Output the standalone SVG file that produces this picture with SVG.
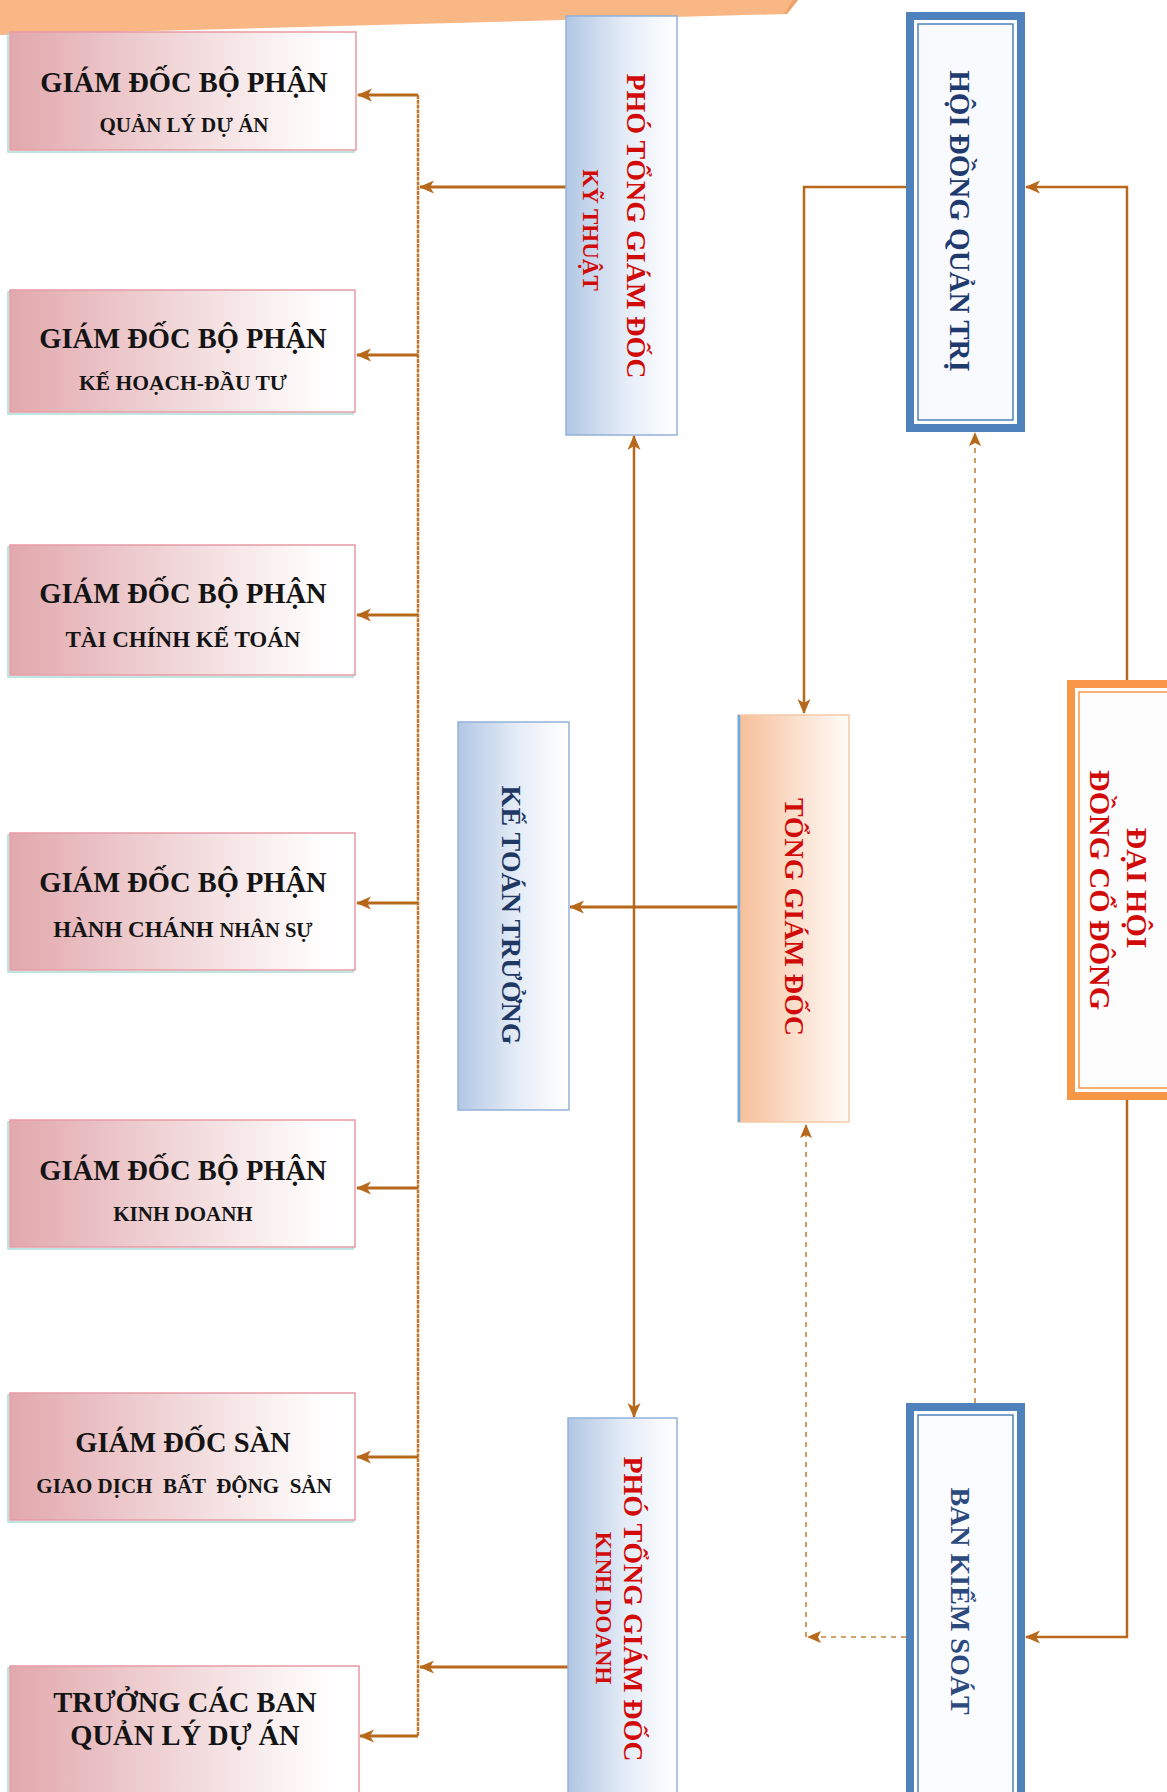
<svg xmlns="http://www.w3.org/2000/svg" width="1167" height="1792" viewBox="0 0 1167 1792">
<style>
.t{font-family:"Liberation Serif","Times New Roman",serif;font-weight:bold}
.blk{fill:#141414}
.red{fill:#d10a0a}
.navy{fill:#1f3864}
.pk{fill:url(#gPink);stroke:#e79aa5;stroke-width:1.5}
.sh{fill:none;stroke:#a9dcd7;stroke-width:1.5}
.bl{fill:url(#gBlue);stroke:#93b1da;stroke-width:1.5}
.con{fill:none;stroke:#b8681a;stroke-width:3}
.trk{fill:none;stroke:#c27628;stroke-width:2.5;stroke-dasharray:4 0.8}
.dsh{fill:none;stroke:#c4843a;stroke-width:1.6;stroke-dasharray:5 5}
</style>
<defs>
<linearGradient id="gPink" x1="0" y1="0" x2="1" y2="0">
<stop offset="0" stop-color="#e2a8ad"/><stop offset="0.5" stop-color="#f1d8da"/><stop offset="0.9" stop-color="#fffdfd"/><stop offset="1" stop-color="#ffffff"/>
</linearGradient>
<linearGradient id="gBlue" x1="0" y1="0" x2="1" y2="0">
<stop offset="0" stop-color="#b2c7e4"/><stop offset="0.55" stop-color="#e6edf7"/><stop offset="1" stop-color="#ffffff"/>
</linearGradient>
<linearGradient id="gPeach" x1="0" y1="0" x2="1" y2="0">
<stop offset="0" stop-color="#f7be98"/><stop offset="0.6" stop-color="#fbe4d4"/><stop offset="1" stop-color="#fffaf6"/>
</linearGradient>
<marker id="ah" markerUnits="userSpaceOnUse" markerWidth="17" markerHeight="15" refX="14" refY="7.5" orient="auto">
<path d="M0,1 L15,7.5 L0,14 L4,7.5 Z" fill="#b8681a"/>
</marker>
<marker id="ahs" markerUnits="userSpaceOnUse" markerWidth="17" markerHeight="15" refX="14" refY="7.5" orient="auto-start-reverse">
<path d="M0,1 L15,7.5 L0,14 L4,7.5 Z" fill="#b8681a"/>
</marker>
<marker id="ahd" markerUnits="userSpaceOnUse" markerWidth="16" markerHeight="14" refX="13" refY="7" orient="auto">
<path d="M0,1 L14,7 L0,13 L3,7 Z" fill="#b8681a"/>
</marker>
</defs>
<rect x="0" y="0" width="1167" height="1792" fill="#ffffff"/>

<g id="banner">
<polygon points="0,0 798,0 787,14 0,35" fill="#f8b784"/>
<polygon points="787,14 798,0 793,0 784,14" fill="#eea36c"/>
</g>

<g id="connectors">
<path class="trk" d="M418,95 V1736"/>
<path class="con" marker-end="url(#ah)" d="M418,95 H358"/>
<path class="con" marker-end="url(#ah)" d="M418,355 H357"/>
<path class="con" marker-end="url(#ah)" d="M418,615 H357"/>
<path class="con" marker-end="url(#ah)" d="M418,903 H357"/>
<path class="con" marker-end="url(#ah)" d="M418,1188 H357"/>
<path class="con" marker-end="url(#ah)" d="M418,1457 H357"/>
<path class="con" marker-end="url(#ah)" d="M418,1736 H360"/>
<path class="con" marker-end="url(#ah)" d="M566,187 H420"/>
<path class="con" marker-end="url(#ah)" d="M568,1667 H420"/>
<path class="con" marker-start="url(#ahs)" marker-end="url(#ahs)" d="M634,436 V1417" style="stroke-width:2.5"/>
<path class="con" marker-end="url(#ah)" d="M738,907 H570"/>
<path class="con" marker-end="url(#ah)" d="M906,187 H804 V713" style="stroke-width:2.5"/>
<path class="con" marker-end="url(#ah)" d="M1127,680 V187 H1026" style="stroke-width:2.5"/>
<path class="con" marker-end="url(#ah)" d="M1127,1100 V1637 H1026" style="stroke-width:2.5"/>
<path class="dsh" marker-end="url(#ahd)" d="M975,1403 V433"/>
<path class="dsh" marker-end="url(#ahd)" d="M906,1637 H808"/>
<path class="dsh" marker-end="url(#ahd)" d="M806,1637 V1125"/>
</g>

<g id="gd-qlda">
<rect class="sh" x="8" y="34" width="346" height="118"/>
<rect class="pk" x="10" y="32" width="346" height="118"/>
<text class="t blk" x="184" y="92" font-size="28.5" text-anchor="middle">GIÁM ĐỐC BỘ PHẬN</text>
<text class="t blk" x="184" y="132" font-size="21" text-anchor="middle">QUẢN LÝ DỰ ÁN</text>
</g>
<g id="gd-khdt">
<rect class="sh" x="8" y="292" width="345" height="122"/>
<rect class="pk" x="10" y="290" width="345" height="122"/>
<text class="t blk" x="183" y="348" font-size="28.5" text-anchor="middle">GIÁM ĐỐC BỘ PHẬN</text>
<text class="t blk" x="183" y="390" font-size="21.5" text-anchor="middle">KẾ HOẠCH-ĐẦU TƯ</text>
</g>
<g id="gd-tckt">
<rect class="sh" x="8" y="547" width="345" height="130"/>
<rect class="pk" x="10" y="545" width="345" height="130"/>
<text class="t blk" x="183" y="603" font-size="28.5" text-anchor="middle">GIÁM ĐỐC BỘ PHẬN</text>
<text class="t blk" x="183" y="647" font-size="23" text-anchor="middle">TÀI CHÍNH KẾ TOÁN</text>
</g>
<g id="gd-hcns">
<rect class="sh" x="8" y="835" width="345" height="137"/>
<rect class="pk" x="10" y="833" width="345" height="137"/>
<text class="t blk" x="183" y="892" font-size="28.5" text-anchor="middle">GIÁM ĐỐC BỘ PHẬN</text>
<text class="t blk" x="183" y="937" font-size="23" text-anchor="middle">HÀNH CHÁNH <tspan font-size="20.5">NHÂN SỰ</tspan></text>
</g>
<g id="gd-kd">
<rect class="sh" x="8" y="1122" width="345" height="127"/>
<rect class="pk" x="10" y="1120" width="345" height="127"/>
<text class="t blk" x="183" y="1180" font-size="28.5" text-anchor="middle">GIÁM ĐỐC BỘ PHẬN</text>
<text class="t blk" x="183" y="1221" font-size="21" text-anchor="middle">KINH DOANH</text>
</g>
<g id="gd-san">
<rect class="sh" x="8" y="1395" width="345" height="127"/>
<rect class="pk" x="10" y="1393" width="345" height="127"/>
<text class="t blk" x="183" y="1452" font-size="28.5" text-anchor="middle">GIÁM ĐỐC SÀN</text>
<text class="t blk" x="184" y="1493" font-size="21" text-anchor="middle" style="white-space:pre">GIAO DỊCH  BẤT  ĐỘNG  SẢN</text>
</g>
<g id="truong-ban">
<rect class="sh" x="8" y="1668" width="349" height="130"/>
<rect class="pk" x="10" y="1666" width="349" height="130"/>
<text class="t blk" x="185" y="1712" font-size="28.5" text-anchor="middle">TRƯỞNG CÁC BAN</text>
<text class="t blk" x="185" y="1745" font-size="28.5" text-anchor="middle">QUẢN LÝ DỰ ÁN</text>
</g>

<g id="ptgd-kt">
<rect class="bl" x="566" y="16" width="111" height="419"/>
<text class="t red" transform="translate(627,226) rotate(90)" font-size="28" text-anchor="middle">PHÓ TỔNG GIÁM ĐỐC</text>
<text class="t red" transform="translate(583,230) rotate(90)" font-size="23" text-anchor="middle">KỸ THUẬT</text>
</g>
<g id="ke-toan-truong">
<rect class="bl" x="458" y="722" width="111" height="388"/>
<text class="t navy" transform="translate(502,915) rotate(90)" font-size="28" text-anchor="middle">KẾ TOÁN TRƯỞNG</text>
</g>
<g id="tong-giam-doc">
<rect x="738" y="715" width="111" height="407" fill="url(#gPeach)" stroke="#f6c9a6" stroke-width="1.5"/>
<path d="M739,715 V1122" stroke="#68aee6" stroke-width="2.5"/>
<text class="t red" transform="translate(785,917) rotate(90)" font-size="28" text-anchor="middle">TỔNG GIÁM ĐỐC</text>
</g>
<g id="ptgd-kd">
<rect class="bl" x="568" y="1418" width="109" height="380"/>
<text class="t red" transform="translate(624,1609) rotate(90)" font-size="28" text-anchor="middle">PHÓ TỔNG GIÁM ĐỐC</text>
<text class="t red" transform="translate(596,1608) rotate(90)" font-size="23" text-anchor="middle">KINH DOANH</text>
</g>
<g id="hoi-dong-quan-tri">
<rect x="910" y="16" width="111" height="412" fill="#ffffff" stroke="#4f81bd" stroke-width="8"/>
<rect x="918" y="24" width="95" height="396" fill="#f8fafd" stroke="#4f81bd" stroke-width="1.5"/>
<text class="t" fill="#1f3a6e" transform="translate(950,221) rotate(90)" font-size="29" text-anchor="middle">HỘI ĐỒNG QUẢN TRỊ</text>
</g>
<g id="ban-kiem-soat">
<rect x="910" y="1407" width="111" height="400" fill="#ffffff" stroke="#4f81bd" stroke-width="8"/>
<rect x="918" y="1415" width="95" height="390" fill="#fbfcfe" stroke="#4f81bd" stroke-width="1.5"/>
<text class="t" fill="#2d4a80" transform="translate(951,1601) rotate(90)" font-size="28" text-anchor="middle">BAN KIỂM SOÁT</text>
</g>
<g id="dai-hoi-co-dong">
<rect x="1071" y="684" width="110" height="412" fill="#ffffff" stroke="#f79646" stroke-width="8"/>
<rect x="1079" y="692" width="100" height="396" fill="#fdfdfd" stroke="#f79646" stroke-width="1.5"/>
<text class="t red" transform="translate(1127,888) rotate(90)" font-size="30" text-anchor="middle">ĐẠI HỘI</text>
<text class="t red" transform="translate(1090,890) rotate(90)" font-size="30" text-anchor="middle">ĐỒNG CỔ ĐÔNG</text>
</g>
</svg>
